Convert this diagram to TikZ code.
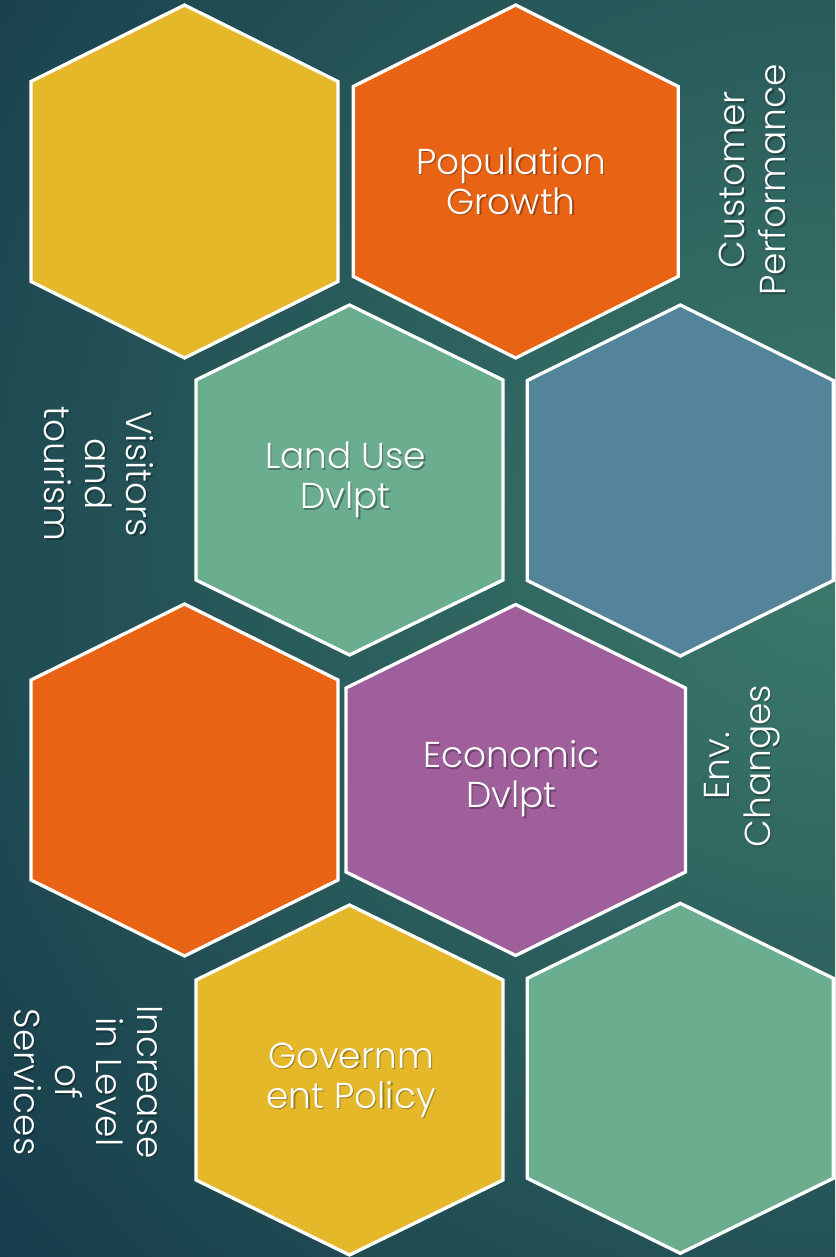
\documentclass[tikz,border=0pt]{standalone}
\usepackage{fontspec}
\IfFontExistsTF{Poppins Light}{\setmainfont{Poppins Light}}{\setmainfont{Poppins}}
\definecolor{hexY}{HTML}{E5B82A}
\definecolor{hexO}{HTML}{E96314}
\definecolor{hexG}{HTML}{6AAD8F}
\definecolor{hexB}{HTML}{548499}
\definecolor{hexP}{HTML}{9E5F9B}
\definecolor{bgin}{HTML}{3C7A6B}
\definecolor{bgout}{HTML}{163C4B}
\pgfdeclareradialshading{bgshade}{\pgfpoint{0bp}{0bp}}{color(0bp)=(bgin); color(25bp)=(bgout); color(50bp)=(bgout)}
\tikzset{
  hexcell/.style={draw=white, line width=3.3pt, line join=miter},
  hextext/.style={text=white, font=\fontsize{36}{40}\selectfont, align=center, inner sep=0pt},
  sidetext/.style={text=white, font=\fontsize{36}{41}\selectfont, align=center, inner sep=0pt},
  shadowtext/.style={text=black, opacity=0.3},
}
% center x, center y, half width, half height, side offset, colour
\newcommand{\hexcell}[6]{%
  \filldraw[hexcell, fill=#6] (#1,#2-#4) -- (#1+#3,#2-#5) -- (#1+#3,#2+#5) --
    (#1,#2+#4) -- (#1-#3,#2+#5) -- (#1-#3,#2-#5) -- cycle;}
\begin{document}
\begin{tikzpicture}[x=1pt,y=-1pt]
  \useasboundingbox (0,0) rectangle (835,1257);
  \begin{scope}
    \clip (0,0) rectangle (835,1257);
    \fill[bgout] (0,0) rectangle (835,1257);
    \shade[shading=bgshade] (835,550) circle (1100);
  \end{scope}
  % hexagons
  \hexcell{184.5}{181.5}{153.5}{176.5}{100}{hexY}
  \hexcell{515.7}{181.5}{162.5}{176.5}{95}{hexO}
  \hexcell{349.5}{480}{153.5}{175}{100}{hexG}
  \hexcell{680.3}{480.5}{153}{175.5}{100}{hexB}
  \hexcell{184.5}{780}{153.5}{176}{100}{hexO}
  \hexcell{515.7}{780}{169.7}{175.5}{92}{hexP}
  \hexcell{349.5}{1080}{153.5}{175}{100}{hexY}
  \hexcell{680.3}{1078.3}{153}{175}{100}{hexG}
  % hexagon labels (shadow, then text)
  \node[hextext, shadowtext] (popS) at (512.5,182.5) {Population\\Growth};
  \node[hextext] (pop) at (511,181) {Population\\Growth};
  \node[hextext, shadowtext] (landS) at (347,481.5) {Land Use\\Dvlpt};
  \node[hextext] (land) at (345.5,480) {Land Use\\Dvlpt};
  \node[hextext, shadowtext] (econS) at (513,780.5) {Economic\\Dvlpt};
  \node[hextext] (econ) at (511.5,779) {Economic\\Dvlpt};
  \node[hextext, shadowtext] (govS) at (352.5,1081.5) {Governm\\ent Policy};
  \node[hextext] (gov) at (351,1080) {Governm\\ent Policy};
  % side labels
  \node[sidetext, shadowtext, rotate=90] (custS) at (754,181.5) {Customer\\Performance};
  \node[sidetext, rotate=90] (cust) at (752.5,180) {Customer\\Performance};
  \node[sidetext, shadowtext, rotate=90] (envS) at (743.5,767.5) {Env.\\Changes};
  \node[sidetext, rotate=90] (env) at (742,766) {Env.\\Changes};
  \node[sidetext, shadowtext, rotate=-90] (visS) at (100.5,475.5) {Visitors\\and\\tourism};
  \node[sidetext, rotate=-90] (vis) at (99,474) {Visitors\\and\\tourism};
  \node[sidetext, shadowtext, rotate=-90] (incS) at (89.5,1083.5) {Increase\\in Level\\of\\Services};
  \node[sidetext, rotate=-90] (inc) at (88,1082) {Increase\\in Level\\of\\Services};
\end{tikzpicture}
\end{document}
